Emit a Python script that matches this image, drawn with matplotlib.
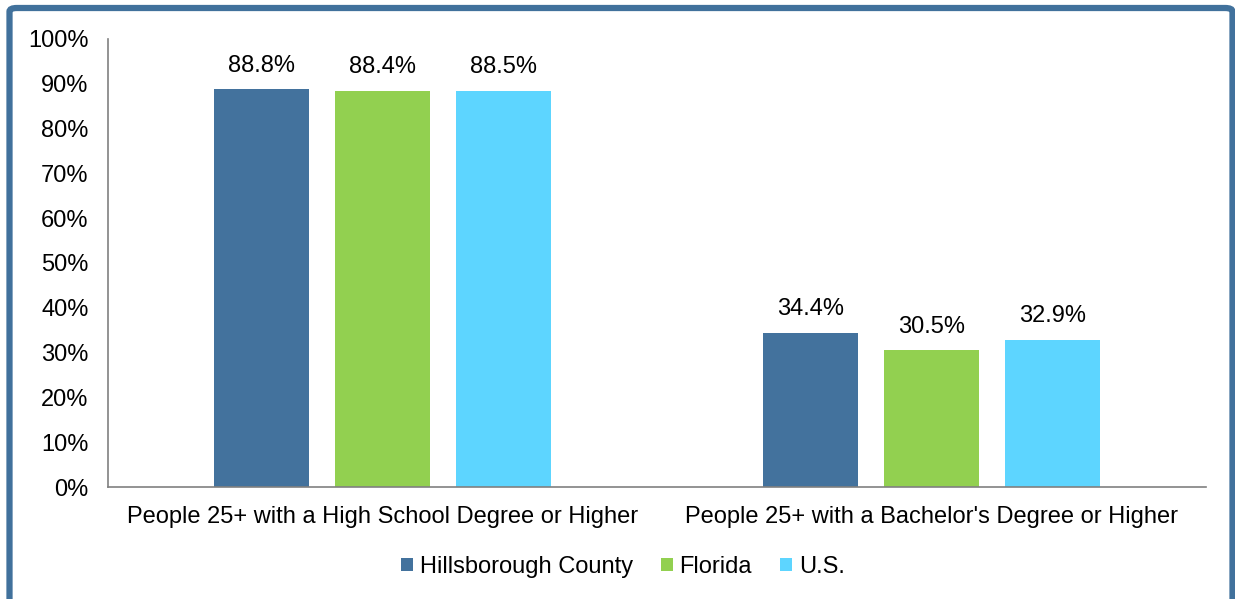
import numpy as np
import matplotlib.pyplot as plt
from matplotlib.patches import FancyBboxPatch

# dados
categorias = ["People 25+ with a High School Degree or Higher",
              "People 25+ with a Bachelor's Degree or Higher"]
series = ["Hillsborough County", "Florida", "U.S."]
hillsborough = [88.8, 34.4]
florida = [88.4, 30.5]
us = [88.5, 32.9]
cores = ["#43729D", "#92D050", "#5DD5FF"]

plt.rcParams['font.family'] = ['Liberation Sans', 'DejaVu Sans']
fs = 17

fig = plt.figure(figsize=(12.35, 5.99), dpi=100)
ax = fig.add_axes([108 / 1235, 1 - 487 / 599, 1098 / 1235, 448 / 599])

# moldura azul
moldura = FancyBboxPatch((9.5 / 1235, -0.05), 1223 / 1235, 1 - 8 / 599 + 0.05,
                         boxstyle="round,pad=0,rounding_size=0.006",
                         transform=fig.transFigure, fill=False,
                         edgecolor="#41719C", linewidth=4.5, zorder=0)
fig.patches.append(moldura)

x = np.arange(len(categorias))
largura = 0.173
passo = 0.221
for i, (nome, valores) in enumerate(zip(series, [hillsborough, florida, us])):
    pos = x + (i - 1) * passo
    barras = ax.bar(pos, valores, largura, color=cores[i], label=nome)
    for b, v in zip(barras, valores):
        ax.text(b.get_x() + b.get_width() / 2, v + 2.8, f"{v:.1f}%",
                ha='center', va='bottom', fontsize=fs)

ax.set_xlim(-0.5, 1.5)
ax.set_ylim(0, 100)
ax.set_yticks(np.arange(0, 101, 10))
ax.set_yticklabels([f"{t}%" for t in range(0, 101, 10)], fontsize=fs)
ax.set_xticks(x)
ax.set_xticklabels(categorias, fontsize=fs)
ax.tick_params(axis='y', length=0, pad=14)
ax.tick_params(axis='x', length=0, pad=14)
for lado in ['top', 'right']:
    ax.spines[lado].set_visible(False)
for lado in ['left', 'bottom']:
    ax.spines[lado].set_color('#808080')
    ax.spines[lado].set_linewidth(1.2)

fig.legend(loc='center', bbox_to_anchor=(623 / 1235, 1 - 567 / 599), ncol=3,
           frameon=False, fontsize=fs, handlelength=0.48, handleheight=0.48,
           handletextpad=0.3, columnspacing=1.2)

fig.savefig('out.png', dpi=100)
